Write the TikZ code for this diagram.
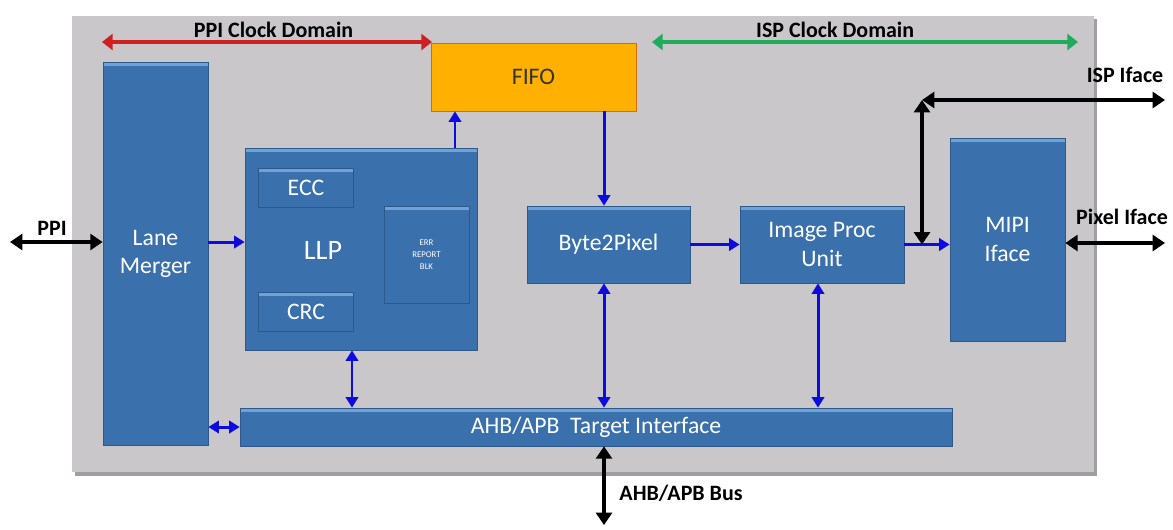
\documentclass[tikz,border=0pt]{standalone}
\usepackage{fontspec}
\setmainfont{Carlito}
\usetikzlibrary{arrows.meta}
\definecolor{bgray}{RGB}{201,199,202}
\definecolor{bblue}{RGB}{58,112,172}
\definecolor{bedge}{RGB}{44,88,138}
\definecolor{btop}{RGB}{112,162,216}
\definecolor{fifoor}{RGB}{255,176,0}
\definecolor{arblue}{RGB}{12,12,225}
\definecolor{ppired}{RGB}{205,32,32}
\definecolor{ispgreen}{RGB}{30,172,92}
\begin{document}
\begin{tikzpicture}[x=0.02cm, y=-0.02cm,
    blk/.style={draw=bedge, fill=bblue, text=white, align=center, inner sep=0pt,
      font=\fontsize{13.5}{16}\selectfont,
      path picture={\draw[btop, line width=4pt] (path picture bounding box.north west) -- (path picture bounding box.north east);}},
    sub/.style={blk, minimum width=1.9cm, minimum height=0.78cm},
    lbl/.style={font=\fontsize{12.5}{14}\selectfont\bfseries},
    bl/.style={arblue, line width=1.7pt, -{Triangle[length=6pt,width=7pt]}},
    bbl/.style={bl, {Triangle[length=6pt,width=7pt]}-{Triangle[length=6pt,width=7pt]}},
    bk/.style={line width=2.2pt, {Triangle[length=7pt,width=9pt]}-{Triangle[length=7pt,width=9pt]}},
    dom/.style={line width=1.8pt, {Triangle[length=6pt,width=9pt]}-{Triangle[length=6pt,width=9pt]}}]
    \useasboundingbox (0,0) rectangle (1173,529);
    % gray frame
    \fill[gray!75] (75,19) rectangle (1097,476);
    \fill[bgray] (72,16) rectangle (1094,472);
    % blocks
    \node [blk, minimum width=2.1cm, minimum height=7.66cm] (lane) at (155.5,253.5) {Lane\\Merger};
    \node [blk, minimum width=4.64cm, minimum height=4.04cm] (llp) at (361,249) {};
    \node [text=white, font=\fontsize{16}{18}\selectfont] (llptxt) at (323,250) {LLP};
    \node [sub] (ecc) at (306,187.5) {ECC};
    \node [sub] (crc) at (306,311.5) {CRC};
    \node [blk, minimum width=1.7cm, minimum height=1.94cm, font=\fontsize{5}{7}\selectfont] (err) at (426.5,254.5) {ERR\\REPORT\\BLK};
    \node [draw=orange!85!black, fill=fifoor, text=black!80, font=\fontsize{13.5}{16}\selectfont, minimum width=4.1cm, minimum height=1.36cm] (fifo) at (533.5,77) {FIFO};
    \node [blk, minimum width=3.26cm, minimum height=1.54cm] (b2p) at (608.5,244.5) {Byte2Pixel};
    \node [blk, minimum width=3.28cm, minimum height=1.54cm] (ipu) at (822,244.5) {Image Proc\\Unit};
    \node [blk, minimum width=2.3cm, minimum height=4.06cm] (mipi) at (1007.5,239.5) {MIPI\\Iface};
    \node [blk, minimum width=14.24cm, minimum height=0.76cm] (ahb) at (596,427) {AHB/APB\ \ Target Interface};
    % end points and columns
    \coordinate (ppiend) at (10,242);
    \coordinate (cllp) at (352,0);
    \coordinate (cfifo) at (455,0);
    \coordinate (cb2p) at (604,0);
    \coordinate (cipu) at (818,0);
    \coordinate (ispj) at (922,100);
    \coordinate (ispend) at (1165,100);
    \coordinate (pixend) at (1165,243);
    \coordinate (busend) at (604,525);
    \coordinate (ppil) at (102,42);
    \coordinate (ppir) at (432,42);
    \coordinate (ispl) at (652,42);
    \coordinate (ispr) at (1078,42);
    % clock domains
    \draw [dom, ppired] (ppil) -- node [lbl, black, above=-2pt, pos=.52] {PPI Clock Domain} (ppir);
    \draw [dom, ispgreen] (ispl) -- node [lbl, black, above=-2pt, pos=.43] {ISP Clock Domain} (ispr);
    % data path
    \draw [bk] (ppiend) -- (lane.west |- ppiend);
    \node [lbl] (ppilbl) at (52,228) {PPI};
    \draw [bl] (lane.east |- ppiend) -- (llp.west |- ppiend);
    \draw [bl] (llp.north -| cfifo) -- (fifo.south -| cfifo);
    \draw [bl] (fifo.south -| cb2p) -- (b2p.north -| cb2p);
    \draw [bl] (b2p.east) -- (ipu.west);
    \draw [bl] (ipu.east) -- (mipi.west |- ipu.east);
    \draw [bk] (ipu.east -| ispj) -- (ispj);
    \draw [bk] (ispj) -- (ispend);
    \node [lbl] (isplbl) at (1125,75) {ISP Iface};
    \draw [bk] (mipi.east |- pixend) -- (pixend);
    \node [lbl] (pixlbl) at (1122,217) {Pixel Iface};
    % register bus
    \draw [bbl] (llp.south -| cllp) -- (ahb.north -| cllp);
    \draw [bbl] (b2p.south -| cb2p) -- (ahb.north -| cb2p);
    \draw [bbl] (ipu.south -| cipu) -- (ahb.north -| cipu);
    \draw [bbl] (lane.east |- ahb.west) -- (ahb.west);
    \draw [bk] (ahb.south -| cb2p) -- (busend);
    \node [lbl] (buslbl) at (681,493) {AHB/APB Bus};
\end{tikzpicture}
\end{document}
